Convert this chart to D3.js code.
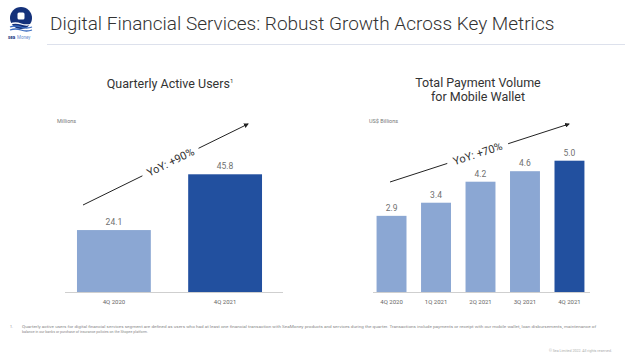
<!DOCTYPE html>
<html><head><meta charset="utf-8">
<script src="https://cdn.jsdelivr.net/npm/d3@7"></script>
<style>html,body{margin:0;padding:0;background:#fff;}svg{display:block;font-family:Roboto,"Open Sans",sans-serif;}</style>
</head><body>
<svg id="c" width="625" height="359"></svg>
<script>
const quaCategories = ["4Q 2020", "4Q 2021"];
const quaValues = [24.1, 45.8];
const tpvCategories = ["4Q 2020", "1Q 2021", "2Q 2021", "3Q 2021", "4Q 2021"];
const tpvValues = [2.9, 3.4, 4.2, 4.6, 5.0];
const lightBlue = "#8ba7d3", darkBlue = "#22509f";

const svg = d3.select("#c");

// Header
const logo = svg.append("g");
logo.append("circle").attr("cx", 21).attr("cy", 18).attr("r", 11).attr("fill", "#14317a");
logo.append("rect").attr("x", 17.5).attr("y", 12.5).attr("width", 7).attr("height", 7).attr("rx", 1.5).attr("fill", "#fff");
[0, 3, 6].forEach(k => {
  logo.append("path").attr("d", `M10 ${24 + k} q5.5 -2 11 0 t11 0`).attr("fill", "none").attr("stroke", k === 0 ? "#fff" : "#3b6cc0").attr("stroke-width", 1.3);
});
logo.append("text").attr("x", 8).attr("y", 39).attr("font-size", 4.5).attr("fill", "#14317a").attr("font-weight", "bold").text("sea");
logo.append("text").attr("x", 17).attr("y", 39).attr("font-size", 4.5).attr("fill", "#6a8fd0").text("Money");

svg.append("text").attr("x", 50).attr("y", 30).attr("font-size", 19).attr("font-weight", 300).attr("fill", "#333")
  .text("Digital Financial Services: Robust Growth Across Key Metrics");
svg.append("line").attr("x1", 47).attr("x2", 625).attr("y1", 44.5).attr("y2", 44.5).attr("stroke", "#dde1ec").attr("stroke-width", 1);

function chart(opts) {
  const g = svg.append("g");
  const x = d3.scaleBand().domain(opts.cats).range([opts.x0, opts.x1]).paddingInner(opts.pad).paddingOuter(opts.padOuter);
  const y = d3.scaleLinear().domain([0, opts.ymax]).range([292, 292 - opts.h]);
  g.selectAll("rect.bar").data(opts.vals).join("rect").attr("class", "bar")
    .attr("x", (d, i) => x(opts.cats[i])).attr("width", x.bandwidth())
    .attr("y", d => y(d)).attr("height", d => y(0) - y(d))
    .attr("fill", (d, i) => i === opts.vals.length - 1 ? darkBlue : lightBlue);
  g.selectAll("text.val").data(opts.vals).join("text").attr("class", "val")
    .attr("x", (d, i) => x(opts.cats[i]) + x.bandwidth() / 2).attr("y", d => y(d) - 5)
    .attr("text-anchor", "middle").attr("font-size", 8.5).attr("fill", "#707070")
    .text(d => d.toFixed(1));
  g.append("line").attr("x1", opts.lx0).attr("x2", opts.lx1).attr("y1", 292.5).attr("y2", 292.5).attr("stroke", "#cfcfcf");
  const ax = g.append("g").attr("transform", "translate(0,292)").call(d3.axisBottom(x).tickSize(0).tickPadding(8));
  ax.select(".domain").remove();
  ax.selectAll("text").attr("font-size", 6).attr("fill", "#666").attr("font-family", "Roboto, sans-serif");
  return g;
}

chart({cats: quaCategories, vals: quaValues, x0: 58.3, x1: 280.7, pad: 0.336, padOuter: 0.168, ymax: 50, h: 128.5, lx0: 65, lx1: 283});
chart({cats: tpvCategories, vals: tpvValues, x0: 369, x1: 592, pad: 0.327, padOuter: 0.17, ymax: 5, h: 131.3, lx0: 373, lx1: 590});

// Chart titles
const t1 = svg.append("text").attr("x", 170).attr("y", 88).attr("text-anchor", "middle").attr("font-size", 12.5).attr("fill", "#333");
t1.append("tspan").text("Quarterly Active Users");
t1.append("tspan").attr("font-size", 6).attr("dy", -5).text("1");
svg.append("text").attr("x", 478).attr("y", 87).attr("text-anchor", "middle").attr("font-size", 12.5).attr("fill", "#333").text("Total Payment Volume");
svg.append("text").attr("x", 478).attr("y", 101).attr("text-anchor", "middle").attr("font-size", 12.5).attr("fill", "#333").text("for Mobile Wallet");
svg.append("text").attr("x", 57).attr("y", 123).attr("font-size", 5.5).attr("fill", "#777").text("Millions");
svg.append("text").attr("x", 369).attr("y", 123).attr("font-size", 5.5).attr("fill", "#777").text("US$ Billions");

// Arrows with YoY text
const defs = svg.append("defs");
defs.append("marker").attr("id", "ah").attr("viewBox", "0 0 10 10").attr("refX", 8).attr("refY", 5)
  .attr("markerWidth", 5).attr("markerHeight", 5).attr("orient", "auto")
  .append("path").attr("d", "M0,0 L10,5 L0,10 z").attr("fill", "#222");

function arrow(x1, y1, x2, y2, label, gapFrac0, gapFrac1, fs) {
  const dx = x2 - x1, dy = y2 - y1;
  const ang = Math.atan2(dy, dx) * 180 / Math.PI;
  svg.append("line").attr("x1", x1).attr("y1", y1).attr("x2", x1 + dx * gapFrac0).attr("y2", y1 + dy * gapFrac0).attr("stroke", "#222").attr("stroke-width", 1);
  svg.append("line").attr("x1", x1 + dx * gapFrac1).attr("y1", y1 + dy * gapFrac1).attr("x2", x2).attr("y2", y2).attr("stroke", "#222").attr("stroke-width", 1).attr("marker-end", "url(#ah)");
  const fm = (gapFrac0 + gapFrac1) / 2;
  svg.append("text").attr("transform", `translate(${x1 + dx * fm},${y1 + dy * fm}) rotate(${ang})`)
    .attr("text-anchor", "middle").attr("dy", "0.35em").attr("font-size", fs).attr("fill", "#333").text(label);
}
arrow(83, 205, 248, 124, "YoY: +90%", 0.36, 0.70, 11);
arrow(390, 182, 569, 124, "YoY: +70%", 0.32, 0.66, 11);

// Footnote
svg.append("text").attr("x", 10).attr("y", 328).attr("font-size", 3.6).attr("fill", "#888").text("1.");
svg.append("text").attr("x", 22).attr("y", 328).attr("font-size", 3.6).attr("fill", "#888")
  .attr("textLength", 574).attr("lengthAdjust", "spacingAndGlyphs")
  .text("Quarterly active users for digital financial services segment are defined as users who had at least one financial transaction with SeaMoney products and services during the quarter. Transactions include payments or receipt with our mobile wallet, loan disbursements, maintenance of");
svg.append("text").attr("x", 22).attr("y", 333).attr("font-size", 3.6).attr("fill", "#888")
  .text("balance in our banks or purchase of insurance policies on the Shopee platform.");
svg.append("text").attr("x", 612).attr("y", 352).attr("text-anchor", "end").attr("font-size", 3.6).attr("fill", "#aaa").text("© Sea Limited 2022. All rights reserved.");
</script>
</body></html>
